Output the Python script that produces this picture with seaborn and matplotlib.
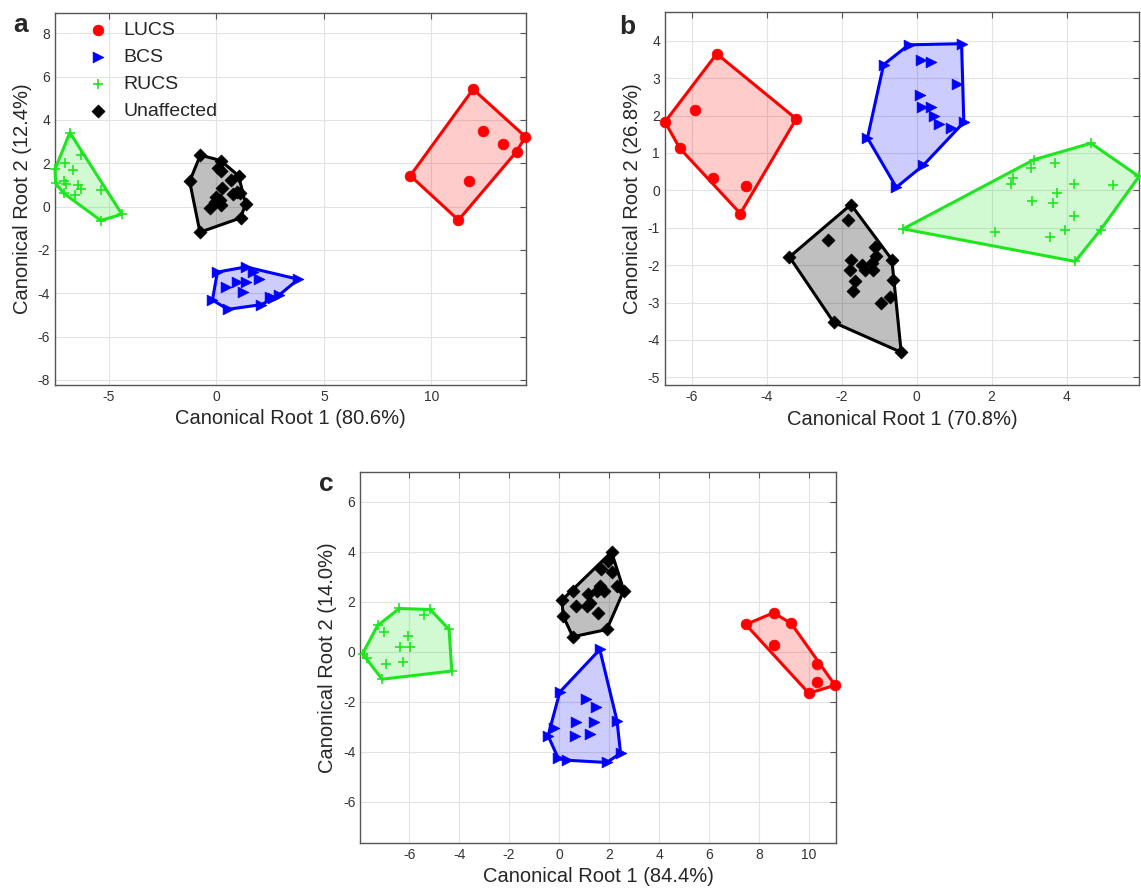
import matplotlib
matplotlib.use("Agg")
import matplotlib.pyplot as plt
import seaborn as sns

GROUPS = ["LUCS", "BCS", "RUCS", "Unaffected"]
COLORS = {"LUCS": "#ff0000", "BCS": "#0000ff", "RUCS": "#1ee61e", "Unaffected": "#000000"}
MARKERS = {"LUCS": "o", "BCS": ">", "RUCS": "+", "Unaffected": "D"}
SIZES = {"LUCS": 60, "BCS": 60, "RUCS": 60, "Unaffected": 44}

# panel a  (root 1 = 80.6 %, root 2 = 12.4 %)
A_LUCS_X = [11.94, 14.37, 13.96, 11.26, 9.02, 12.38, 13.34, 11.74]
A_LUCS_Y = [5.42, 3.23, 2.54, -0.62, 1.43, 3.49, 2.89, 1.18]
A_BCS_X = [0.05, 1.38, 1.71, 3.81, 2.90, 2.65, 2.10, 0.54, -0.18, 0.44, 0.96, 1.37, 2.00, 1.22, 2.48]
A_BCS_Y = [-3.02, -2.78, -3.03, -3.35, -4.10, -4.20, -4.52, -4.74, -4.31, -3.69, -3.48, -3.46, -3.36, -3.96, -4.15]
A_RUCS_X = [-6.81, -6.28, -7.50, -7.47, -7.10, -5.37, -4.39, -7.05, -6.67, -7.09, -6.97, -6.43, -6.29, -6.57, -5.38]
A_RUCS_Y = [3.42, 2.37, 1.72, 1.08, 0.62, -0.64, -0.35, 2.00, 1.68, 1.18, 1.05, 1.00, 0.81, 0.52, 0.79]
A_UNAF_X = [-0.74, 0.20, 1.04, 1.36, 1.13, -0.76, -1.24, 0.08, 0.24, 0.69, 0.27, 0.94, 0.78, 0.00, 0.15, -0.08, 0.20, -0.27, 1.09]
A_UNAF_Y = [2.38, 2.13, 1.42, 0.12, -0.52, -1.18, 1.17, 1.77, 1.66, 1.25, 0.85, 0.67, 0.58, 0.46, 0.31, 0.23, 0.06, -0.08, 0.62]

# panel b  (root 1 = 70.8 %, root 2 = 26.8 %)
B_LUCS_X = [-5.33, -3.21, -4.70, -6.32, -6.71, -5.90, -5.43, -4.55]
B_LUCS_Y = [3.65, 1.91, -0.62, 1.13, 1.83, 2.15, 0.33, 0.12]
B_BCS_X = [-0.21, 1.20, 1.26, 0.18, -0.54, -1.31, -0.88, 0.12, 0.39, 1.09, 0.08, 0.15, 0.39, 0.47, 0.60, 0.92]
B_BCS_Y = [3.89, 3.92, 1.82, 0.67, 0.08, 1.40, 3.36, 3.49, 3.42, 2.85, 2.56, 2.24, 2.23, 1.99, 1.78, 1.67]
B_RUCS_X = [-0.36, 4.65, 5.93, 4.91, 4.23, 3.13, 3.06, 3.68, 2.58, 2.53, 4.20, 5.25, 3.75, 3.09, 3.64, 4.19, 3.97, 2.09, 3.55]
B_RUCS_Y = [-1.03, 1.26, 0.37, -1.05, -1.90, 0.82, 0.60, 0.73, 0.33, 0.18, 0.17, 0.15, -0.07, -0.29, -0.34, -0.69, -1.05, -1.12, -1.26]
B_UNAF_X = [-1.75, -0.66, -0.41, -2.21, -3.39, -0.64, -1.83, -2.37, -1.12, -1.07, -1.75, -1.46, -1.38, -1.17, -1.77, -1.65, -1.70, -0.95, -0.70, -1.19]
B_UNAF_Y = [-0.38, -1.85, -4.33, -3.53, -1.78, -2.41, -0.80, -1.32, -1.51, -1.76, -1.85, -2.00, -2.12, -2.12, -2.14, -2.43, -2.68, -3.01, -2.86, -1.94]

# panel c  (root 1 = 84.4 %, root 2 = 14.0 %)
C_LUCS_X = [7.47, 8.58, 9.29, 11.04, 9.99, 8.58, 10.33, 10.33]
C_LUCS_Y = [1.09, 1.56, 1.13, -1.34, -1.66, 0.27, -0.51, -1.20]
C_BCS_X = [1.63, 2.32, 2.46, 1.91, 0.32, -0.03, -0.44, -0.21, 0.03, 1.07, 1.49, 0.69, 1.41, 0.65, 1.22]
C_BCS_Y = [0.09, -2.77, -4.06, -4.43, -4.34, -4.27, -3.36, -3.06, -1.61, -1.90, -2.23, -2.81, -2.81, -3.36, -3.30]
C_RUCS_X = [-7.86, -7.26, -6.39, -5.15, -4.40, -4.29, -7.08, -7.68, -7.01, -5.39, -6.04, -6.36, -5.98, -6.94, -6.25]
C_RUCS_Y = [-0.08, 1.05, 1.73, 1.69, 0.89, -0.77, -1.10, -0.27, 0.80, 1.45, 0.63, 0.20, 0.20, -0.51, -0.41]
C_UNAF_X = [2.10, 2.59, 1.91, 0.55, 0.17, 0.11, 0.55, 1.94, 1.66, 2.10, 2.32, 1.63, 1.80, 1.52, 1.15, 0.66, 1.11, 1.24, 1.55]
C_UNAF_Y = [3.99, 2.45, 0.89, 0.60, 1.42, 2.06, 2.45, 3.62, 3.31, 3.18, 2.62, 2.62, 2.45, 2.45, 2.31, 1.82, 1.82, 1.95, 1.56]

A_XTICKS = [-5, 0, 5, 10]
A_YTICKS = [-8, -6, -4, -2, 0, 2, 4, 6, 8]
B_XTICKS = [-6, -4, -2, 0, 2, 4]
B_YTICKS = [-5, -4, -3, -2, -1, 0, 1, 2, 3, 4]
C_XTICKS = [-6, -4, -2, 0, 2, 4, 6, 8, 10]
C_YTICKS = [-6, -4, -2, 0, 2, 4, 6]


def convex_hull(xs, ys):
    pts = sorted(set(zip(xs, ys)))

    def cross(o, a, b):
        return (a[0] - o[0]) * (b[1] - o[1]) - (a[1] - o[1]) * (b[0] - o[0])

    lower, upper = [], []
    for p in pts:
        while len(lower) >= 2 and cross(lower[-2], lower[-1], p) <= 0:
            lower.pop()
        lower.append(p)
    for p in reversed(pts):
        while len(upper) >= 2 and cross(upper[-2], upper[-1], p) <= 0:
            upper.pop()
        upper.append(p)
    return lower[:-1] + upper[:-1]


def draw_group(ax, xs, ys, group, with_label=False):
    c = COLORS[group]
    hull = convex_hull(xs, ys)
    hx = [p[0] for p in hull] + [hull[0][0]]
    hy = [p[1] for p in hull] + [hull[0][1]]
    ax.fill(hx, hy, color=c, alpha=0.25 if group == "Unaffected" else 0.2, lw=0, zorder=2)
    ax.plot(hx, hy, color=c, lw=2.2, zorder=3, clip_on=False)
    kw = dict(x=xs, y=ys, ax=ax, marker=MARKERS[group], color=c, s=SIZES[group],
              zorder=4, clip_on=False)
    if MARKERS[group] == "+":
        kw["linewidth"] = 1.2
    else:
        kw["edgecolor"] = c
        kw["linewidth"] = 0.5
    if with_label:
        kw["label"] = group
    sns.scatterplot(**kw)


def style_axes(ax, xlim, ylim, xticks, yticks, xlabel, ylabel):
    ax.set_xlim(*xlim)
    ax.set_ylim(*ylim)
    ax.set_xticks(xticks)
    ax.set_yticks(yticks)
    ax.grid(True, color="#e3e3e3", lw=0.8)
    ax.set_axisbelow(True)
    for sp in ax.spines.values():
        sp.set_visible(True)
        sp.set_color("#555555")
        sp.set_linewidth(1.0)
    ax.tick_params(direction="in", top=True, right=True, length=4, width=0.8,
                   color="#555555", labelcolor="#333333", labelsize=10)
    ax.set_xlabel(xlabel, fontsize=14.5, color="#262626")
    ax.set_ylabel(ylabel, fontsize=14.5, color="#262626")


sns.set_style("white")
plt.rcParams["font.family"] = ["Liberation Sans", "DejaVu Sans"]
plt.rcParams["axes.unicode_minus"] = False

fig = plt.figure(figsize=(11.41, 8.93), dpi=100)
ax_a = fig.add_axes([0.0482, 0.5689, 0.4128, 0.4166])
ax_b = fig.add_axes([0.5828, 0.5686, 0.4154, 0.4185])
ax_c = fig.add_axes([0.3158, 0.0560, 0.4167, 0.4160])

panel_a = [(A_LUCS_X, A_LUCS_Y), (A_BCS_X, A_BCS_Y), (A_RUCS_X, A_RUCS_Y), (A_UNAF_X, A_UNAF_Y)]
panel_b = [(B_LUCS_X, B_LUCS_Y), (B_BCS_X, B_BCS_Y), (B_RUCS_X, B_RUCS_Y), (B_UNAF_X, B_UNAF_Y)]
panel_c = [(C_LUCS_X, C_LUCS_Y), (C_BCS_X, C_BCS_Y), (C_RUCS_X, C_RUCS_Y), (C_UNAF_X, C_UNAF_Y)]

for g, (xs, ys) in zip(GROUPS, panel_a):
    draw_group(ax_a, xs, ys, g, with_label=True)
for g, (xs, ys) in zip(GROUPS, panel_b):
    draw_group(ax_b, xs, ys, g)
for g, (xs, ys) in zip(GROUPS, panel_c):
    draw_group(ax_c, xs, ys, g)

style_axes(ax_a, (-7.5, 14.4), (-8.23, 8.94), A_XTICKS, A_YTICKS,
           "Canonical Root 1 (80.6%)", "Canonical Root 2 (12.4%)")
style_axes(ax_b, (-6.71, 5.93), (-5.21, 4.78), B_XTICKS, B_YTICKS,
           "Canonical Root 1 (70.8%)", "Canonical Root 2 (26.8%)")
style_axes(ax_c, (-7.95, 11.07), (-7.65, 7.21), C_XTICKS, C_YTICKS,
           "Canonical Root 1 (84.4%)", "Canonical Root 2 (14.0%)")

handles, labels = ax_a.get_legend_handles_labels()
ax_a.legend(handles, labels, loc="upper left", bbox_to_anchor=(0.071, 0.976),
            frameon=False, fontsize=14, borderaxespad=0, borderpad=0,
            handlelength=1.0, handletextpad=0.82, labelspacing=0.47)

fig.text(21 / 1141, 1 - 25 / 893, "a", fontsize=19, fontweight="bold", ha="center", va="center")
fig.text(627 / 1141, 1 - 27 / 893, "b", fontsize=19, fontweight="bold", ha="center", va="center")
fig.text(326 / 1141, 1 - 484 / 893, "c", fontsize=19, fontweight="bold", ha="center", va="center")

fig.savefig("out.png", dpi=100)
